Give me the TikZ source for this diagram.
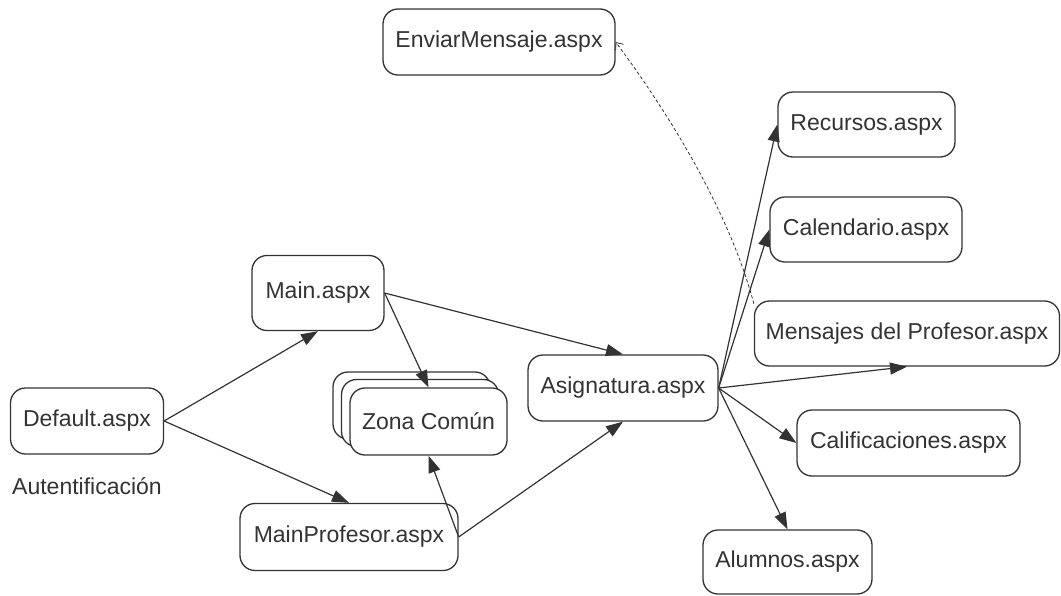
\documentclass[tikz,border=0pt]{standalone}
\usepackage{fontspec}
\setmainfont{Liberation Sans}
\usetikzlibrary{arrows.meta}
\definecolor{ink}{HTML}{333333}
\tikzset{
  page/.style={draw=ink, line width=0.65pt, rounded corners=7.5pt, fill=white,
    text=ink, font=\fontsize{11.5}{14}\selectfont, inner sep=0pt},
  link/.style={draw=ink, line width=0.6pt, -{Triangle[length=8.5pt,width=6pt]}},
  msglink/.style={draw=ink, line width=0.4pt, dash pattern=on 1.6pt off 1.2pt,
    -{Straight Barb[length=3pt,width=5pt]}},
}
\begin{document}
\begin{tikzpicture}[x=0.5pt,y=-0.5pt]
\useasboundingbox (0,0) rectangle (1061,595);

% pages
\node[page, minimum width=76.5pt, minimum height=33pt] (default) at (87,421) {Default.aspx};
\node[text=ink, font=\fontsize{11.5}{14}\selectfont] (auth) at (87,486) {Autentificación};
\node[page, minimum width=66pt, minimum height=37.5pt] (main) at (318,293) {Main.aspx};
\node[page, minimum width=109pt, minimum height=33.5pt] (mainprof) at (349,537) {MainProfesor.aspx};

% stacked common area
\node[page, minimum width=78.5pt, minimum height=33.5pt] (zonaC) at (411.5,405.5) {};
\node[page, minimum width=78.5pt, minimum height=33.5pt] (zonaB) at (420,413) {};
\node[page, minimum width=78.5pt, minimum height=33.5pt] (zona) at (428.5,421.5) {Zona Común};

\node[page, minimum width=95pt, minimum height=33pt] (asig) at (623,388) {Asignatura.aspx};
\node[page, minimum width=116pt, minimum height=33pt] (enviar) at (499,42) {EnviarMensaje.aspx};
\node[page, minimum width=88.5pt, minimum height=32.5pt] (recursos) at (866.5,124.5) {Recursos.aspx};
\node[page, minimum width=96pt, minimum height=32.5pt] (calendario) at (866,229.5) {Calendario.aspx};
\node[page, minimum width=152.5pt, minimum height=32.5pt] (mensajes) at (907,333.5) {Mensajes del Profesor.aspx};
\node[page, minimum width=111.5pt, minimum height=33pt] (calif) at (908.5,443) {Calificaciones.aspx};
\node[page, minimum width=84.5pt, minimum height=32pt] (alumnos) at (787.5,562) {Alumnos.aspx};

% navigation
\draw[link] (default.east) -- (main.south);
\draw[link] (default.east) -- (mainprof.north);
\draw[link] (main.east) -- (zona.north);
\draw[link] (main.east) -- (asig.north);
\draw[link] (mainprof.east) -- (zona.south);
\draw[link] (mainprof.east) -- (asig.south);
\draw[link] (asig.east) -- (recursos.west);
\draw[link] (asig.east) -- (calendario.west);
\draw[link] (asig.east) -- (mensajes.south);
\draw[link] (asig.east) -- (calif.west);
\draw[link] (asig.east) -- (alumnos.north);

% reply link
\draw[msglink] (mensajes.169) .. controls (729,210) and (667,111) .. (enviar.east);
\end{tikzpicture}
\end{document}
